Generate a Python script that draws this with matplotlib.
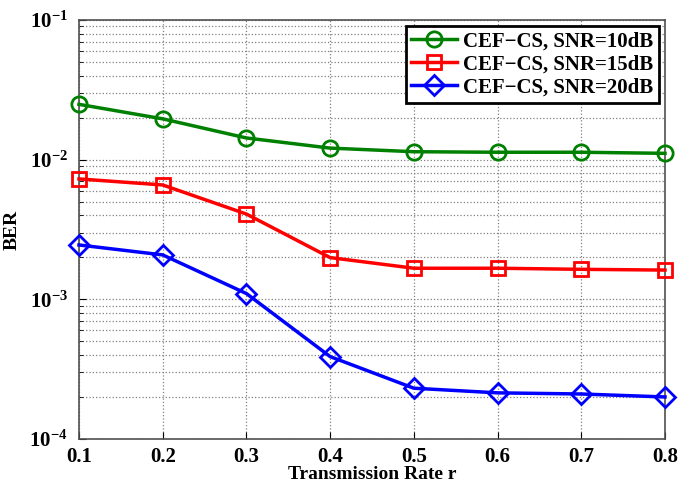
import numpy as np
import matplotlib.pyplot as plt

plt.rcParams['font.family'] = ['Liberation Serif', 'DejaVu Serif']
plt.rcParams['font.weight'] = 'bold'
plt.rcParams['mathtext.fontset'] = 'stix'

# Data
rate = [0.1, 0.2, 0.3, 0.4, 0.5, 0.6, 0.7, 0.8]
ber_10db = [0.0249, 0.0196, 0.0143, 0.0121, 0.0114, 0.0113, 0.0113, 0.0111]
ber_15db = [0.00728, 0.00659, 0.00408, 0.00199, 0.00167, 0.00167, 0.00164, 0.00162]
ber_20db = [0.00245, 0.00208, 0.00110, 0.000389, 0.000231, 0.000214, 0.000210, 0.000200]
labels = ['CEF\u2212CS, SNR=10dB', 'CEF\u2212CS, SNR=15dB', 'CEF\u2212CS, SNR=20dB']

fig = plt.figure(figsize=(6.89, 4.86), dpi=100)
ax = fig.add_axes([79/689, 1 - 439/486, (665-79)/689, (439-20)/486])

ax.semilogy(rate, ber_10db, '-o', color='#008000', lw=2.5, ms=11,
            mfc='none', mew=2, label=labels[0], clip_on=False, zorder=3)
ax.semilogy(rate, ber_15db, '-s', color='#ff0000', lw=2.5, ms=10,
            mfc='none', mew=2, label=labels[1], clip_on=False, zorder=3)
ax.semilogy(rate, ber_20db, '-D', color='#0000ff', lw=2.5, ms=10,
            mfc='none', mew=2, label=labels[2], clip_on=False, zorder=3)

ax.set_xlim(0.1, 0.8)
ax.set_ylim(1e-4, 1e-1)
ax.set_xticks(rate)
ax.set_xticklabels(['%.1f' % r for r in rate])
ax.grid(True, which='major', ls=':', color='#808080', lw=0.9)
ax.grid(True, which='minor', axis='y', ls=':', color='#808080', lw=0.9)
ax.tick_params(which='both', direction='in', labelsize=15)
ax.tick_params(axis='x', pad=6)
ax.tick_params(axis='y', pad=8)
ax.tick_params(which='major', length=5)
ax.tick_params(which='minor', length=3)
for s in ax.spines.values():
    s.set_color('#505050')
    s.set_linewidth(1.2)

ax.set_xlabel('Transmission Rate r', fontsize=14, fontweight='bold', labelpad=-1)
ax.set_ylabel('BER', fontsize=14, fontweight='bold', labelpad=6)

leg = ax.legend(loc='upper right', fontsize=15, fancybox=False, framealpha=1,
                borderpad=0.25, labelspacing=0.15, handlelength=2.2,
                handletextpad=0.3, borderaxespad=0.3)
leg.get_frame().set_edgecolor('black')
leg.get_frame().set_linewidth(2)

fig.savefig('out.png', dpi=100)
